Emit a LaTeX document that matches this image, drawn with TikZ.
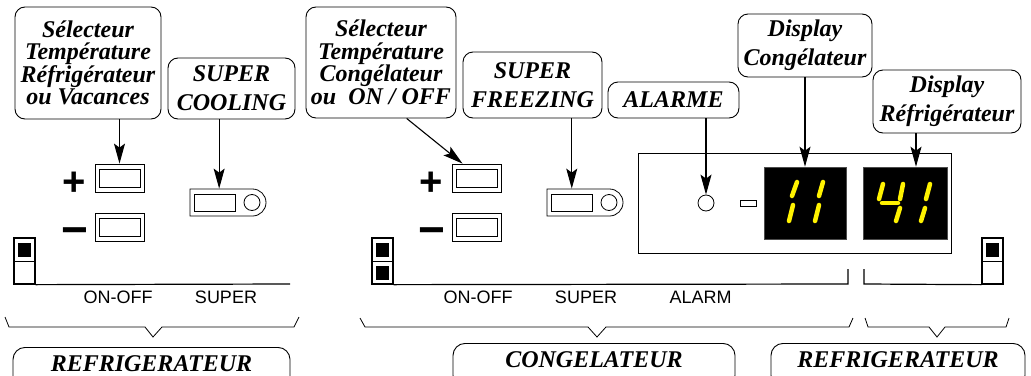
\documentclass[tikz,border=0pt]{standalone}
\usepackage{fontspec}
\setmainfont{Liberation Serif}
\setsansfont{Liberation Sans}
\usetikzlibrary{arrows.meta,positioning,shapes.misc,calc}

\begin{document}
\begin{tikzpicture}[
  x=1pt, y=-1pt, >=Stealth,
  callout/.style={draw=black, rounded corners=10pt, line width=0.9pt, align=center, inner sep=0pt, font=\fontsize{24}{29}\selectfont\bfseries\itshape},
  zone/.style={draw=black, rounded corners=12pt, line width=0.9pt, anchor=north, inner sep=0pt, text height=24pt, text depth=20pt, font=\fontsize{24}{28}\selectfont\bfseries\itshape},
  keybtn/.style={draw, line width=0.8pt, minimum width=49pt, minimum height=28pt, inner sep=0pt},
  superbtn/.style={draw, rounded rectangle, rounded rectangle left arc=none, line width=0.8pt, minimum width=76pt, minimum height=27pt, inner sep=0pt},
  innerkey/.style={draw, line width=0.8pt, minimum width=41pt, minimum height=18pt, inner sep=0pt},
  led/.style={draw, circle, line width=0.8pt, minimum size=16pt, inner sep=0pt},
  lcd/.style={fill=black, draw=black!70, line width=0.6pt, minimum height=72pt, inner sep=0pt},
  swbox/.style={draw, line width=1.3pt, minimum width=21pt, minimum height=46pt, inner sep=0pt},
  swknob/.style={fill=black, minimum width=13pt, minimum height=14pt, inner sep=0pt},
  sign/.style={font=\sffamily\bfseries, anchor=base, inner sep=0pt},
  keylabel/.style={font=\fontsize{18}{18}\selectfont\sffamily},
  arrow/.style={line width=1.1pt, arrows={-Stealth[length=20pt, width=11pt, inset=4pt]}},
  rail/.style={line width=1.2pt},
  brace/.style={line width=0.8pt},
  seg/.style={yellow, line width=4.5pt, line cap=round}
]
\useasboundingbox (0,0) rectangle (1031,375);

% callouts
\node[callout, minimum width=146pt, minimum height=112pt, font=\fontsize{24}{22.5}\selectfont\bfseries\itshape] (selR) at (88,63) {S\'electeur\\Temp\'erature\\R\'efrig\'erateur\\ou Vacances};
\node[callout, minimum width=127pt, minimum height=61pt] (scool) at (231.5,88.5) {SUPER\\COOLING};
\node[callout, minimum width=150pt, minimum height=111pt, font=\fontsize{24}{22.5}\selectfont\bfseries\itshape] (selC) at (381,62.5) {S\'electeur\\Temp\'erature\\Cong\'elateur\\ou~~ON / OFF};
\node[callout, minimum width=139pt, minimum height=66pt] (sfreeze) at (532.5,85) {SUPER\\FREEZING};
\node[callout, minimum width=131pt, minimum height=36pt] (alarme) at (673.5,100) {ALARME};
\node[callout, minimum width=134pt, minimum height=63pt] (dispC) at (805,45.5) {Display\\Cong\'elateur};
\node[callout, minimum width=148pt, minimum height=63pt] (dispR) at (947,101.5) {Display\\R\'efrig\'erateur};

% refrigerateur keys
\node[keybtn] (plusR) at (119.5,178) {};
\node[innerkey] at (plusR.center) {};
\node[keybtn] (minusR) at (119.5,227) {};
\node[innerkey] at (minusR.center) {};
\node[sign, font=\fontsize{40}{40}\selectfont\sffamily\bfseries] (plsR) at (74,195) {+};
\node[sign, font=\fontsize{46}{46}\selectfont\sffamily\bfseries] (mnsR) at (74.5,245) {−};
\node[superbtn] (cool) at (228,202.5) {};
\node[innerkey, minimum height=17pt] (coolkey) at (214.5,202.5) {};
\node[led] (coolled) at (252,202.5) {};

% congelateur keys
\node[keybtn] (plusC) at (476.5,178) {};
\node[innerkey] at (plusC.center) {};
\node[keybtn] (minusC) at (476.5,227) {};
\node[innerkey] at (minusC.center) {};
\node[sign, font=\fontsize{40}{40}\selectfont\sffamily\bfseries] (plsC) at (431,195) {+};
\node[sign, font=\fontsize{46}{46}\selectfont\sffamily\bfseries] (mnsC) at (431.5,245) {−};
\node[superbtn] (freeze) at (585,202.5) {};
\node[innerkey, minimum height=17pt] (freezekey) at (571.5,202.5) {};
\node[led] (freezeled) at (609,202.5) {};

% display panel
\node[draw, line width=0.9pt, minimum width=313pt, minimum height=100pt, inner sep=0pt] (panel) at (794.5,203) {};
\node[led] (alarmled) at (706,203) {};
\node[draw, line width=0.6pt, minimum width=16pt, minimum height=6pt, inner sep=0pt] (dash) at (748,203) {};
\node[lcd, minimum width=82pt] (lcdC) at (805,203) {};
\node[lcd, minimum width=84pt] (lcdR) at (905,203) {};
\draw[seg] (797,182) -- (792,196);
\draw[seg] (793,205) -- (789,221);
\draw[seg] (823,182) -- (819,196);
\draw[seg] (819,205) -- (815,221);
\draw[seg] (883,184) -- (879,199);
\draw[seg] (882,203) -- (898,203);
\draw[seg] (903,184) -- (900,199);
\draw[seg] (900,208) -- (896,221);
\draw[seg] (930,184) -- (926,199);
\draw[seg] (925,208) -- (921,221);

% switches
\node[swbox] (swR) at (24.5,261) {};
\node[swbox] (swC) at (382.5,261) {};
\node[swbox] (swD) at (992.5,261) {};
\foreach \s in {swR,swC,swD} \draw[line width=1pt] (\s.west) -- (\s.east);
\node[swknob] at ($(swR.center)+(0,-11)$) {};
\node[swknob] at ($(swC.center)+(0,-11)$) {};
\node[swknob] at ($(swC.center)+(0,12)$) {};
\node[swknob] at ($(swD.center)+(0,-11)$) {};

% rails
\coordinate (railR) at (290,284);
\coordinate (railC) at (848,284);
\coordinate (railD) at (864,284);
\draw[rail] (swR.south east) -- (railR);
\draw[rail] (swC.south east) -- (railC) -- ++(0,-15);
\draw[rail] (swD.south west) -- (railD) -- ++(0,-15);

\node[keylabel] (onoffR) at (118,297.5) {ON-OFF};
\node[keylabel] (superR) at (226,297.5) {SUPER};
\node[keylabel] (onoffC) at (478,297.5) {ON-OFF};
\node[keylabel] (superC) at (586,297.5) {SUPER};
\node[keylabel] (alarm) at (700.5,297.5) {ALARM};

% arrows
\draw[arrow] (selR.south -| plusR.north) -- (plusR.north);
\draw[arrow] (scool.south -| {$(cool.north west)!0.47!(cool.north east)$}) -- ($(cool.north west)!0.47!(cool.north east)$);
\draw[arrow] ($(selC.south west)!0.67!(selC.south east)$) -- ($(plusC.north west)!0.22!(plusC.north east)$);
\draw[arrow] (sfreeze.south -| {$(freeze.north west)!0.4!(freeze.north east)$}) -- ($(freeze.north west)!0.4!(freeze.north east)$);
\draw[arrow] (alarme.south -| alarmled.north) -- (alarmled.north);
\draw[arrow] (dispC.south -| lcdC.north) -- (lcdC.north);
\draw[arrow] (dispR.south -| {$(lcdR.north west)!0.63!(lcdR.north east)$}) -- ($(lcdR.north west)!0.63!(lcdR.north east)$);

% braces
\draw[brace] (5,317) -- (9,327) -- (145,327) -- (153,337) -- (162,327) -- (294,327) -- (299,317);
\draw[brace] (360,318) -- (365,327) -- (588,327) -- (597,337) -- (606,327) -- (849,327) -- (853,318);
\draw[brace] (865,318) -- (868,327) -- (929,327) -- (937,337) -- (945,327) -- (1006,327) -- (1009,318);

% zones
\node[zone, minimum width=277pt] (zoneR) at (151.5,347) {REFRIGERATEUR};
\node[zone, minimum width=282pt] (zoneC) at (594,343) {CONGELATEUR};
\node[zone, minimum width=254pt] (zoneD) at (898,343) {REFRIGERATEUR};

\end{tikzpicture}
\end{document}
